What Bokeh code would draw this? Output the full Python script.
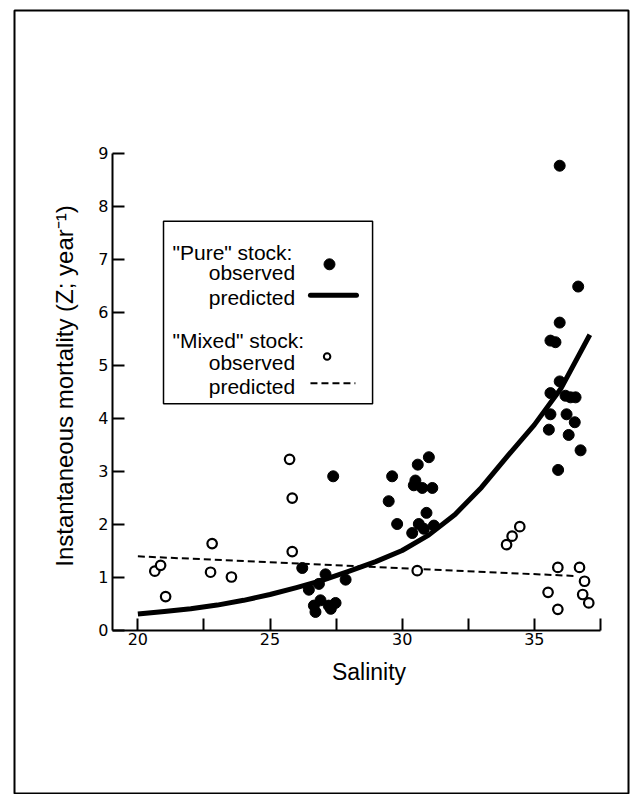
from bokeh.plotting import figure
from bokeh.models import FixedTicker, BoxAnnotation, Range1d, LinearAxis
from bokeh.core.properties import value
from bokeh.embed import file_html
from bokeh.resources import INLINE

# ---------------- data ----------------
pure_salinity = [27.39, 26.22, 27.10, 26.85, 26.47, 27.86, 26.66, 26.72, 26.91, 27.22, 27.48, 27.30,
                 31.01, 30.59, 29.62, 30.50, 30.44, 30.76, 31.14, 29.49, 30.92, 29.81, 30.63, 30.38,
                 30.82, 31.20,
                 35.96, 36.66, 35.96, 35.61, 35.80, 35.96, 35.61, 36.18, 36.37, 36.56, 35.61, 36.22,
                 36.53, 35.55, 36.30, 36.75, 35.90]
pure_z = [2.90, 1.17, 1.05, 0.87, 0.76, 0.95, 0.46, 0.34, 0.56, 0.46, 0.51, 0.40,
          3.26, 3.12, 2.90, 2.82, 2.73, 2.68, 2.68, 2.43, 2.21, 2.00, 2.00, 1.83,
          1.91, 1.97,
          8.76, 6.48, 5.80, 5.46, 5.43, 4.69, 4.47, 4.42, 4.39, 4.39, 4.07, 4.07,
          3.92, 3.78, 3.68, 3.39, 3.02]

mixed_salinity = [20.64, 20.86, 21.05, 22.81, 22.75, 23.54, 25.74, 25.84, 25.84, 30.57,
                  34.45, 34.16, 33.95, 35.89, 36.71, 36.90, 35.52, 36.83, 37.06, 35.89]
mixed_z = [1.11, 1.22, 0.63, 1.63, 1.09, 1.00, 3.22, 2.49, 1.48, 1.12,
           1.95, 1.77, 1.61, 1.18, 1.18, 0.92, 0.71, 0.67, 0.51, 0.39]

pure_pred_salinity = [20, 21, 22, 23, 24, 25, 26, 27, 28, 29, 30, 31, 32, 33, 34, 35, 36, 37.1]
pure_pred_z = [0.30, 0.35, 0.40, 0.47, 0.56, 0.67, 0.80, 0.94, 1.11, 1.29, 1.50, 1.79,
               2.18, 2.69, 3.29, 3.87, 4.55, 5.57]

mixed_pred_salinity = [20.0, 36.5]
mixed_pred_z = [1.39, 1.02]

x_major_ticks = [20, 25, 30, 35]
x_minor_ticks = [22.5, 27.5, 32.5, 37.5]
y_ticks = [0, 1, 2, 3, 4, 5, 6, 7, 8, 9]
x_axis_bounds = (19.04, 37.5)
y_axis_bounds = (0, 9)

legend_headers = ['"Pure" stock:', '"Mixed" stock:']
legend_items = ["observed", "predicted", "observed", "predicted"]

x_label = "Salinity"
y_label = "Instantaneous mortality (Z; year\u207b\u00b9)"

# ---------------- figure ----------------
# The plot frame is the outer rule of the original figure; the axes sit
# inside it at fixed data locations.
W, H = 630, 794
FRAME_L, FRAME_R, FRAME_T, FRAME_B = 14, 628, 10, 794
PX_PER_X = 26.43           # pixels per salinity unit
PX_PER_Y = 53.0            # pixels per Z unit
AXIS_X_PX, AXIS_Y_PX = 112, 629.5   # where the axes cross, in page pixels

x0 = x_axis_bounds[0] - (AXIS_X_PX - FRAME_L) / PX_PER_X
x1 = x_axis_bounds[0] + (FRAME_R - AXIS_X_PX) / PX_PER_X
y0 = -(FRAME_B - AXIS_Y_PX) / PX_PER_Y
y1 = (AXIS_Y_PX - FRAME_T) / PX_PER_Y

p = figure(width=W, height=H, output_backend="svg", toolbar_location=None,
           x_range=Range1d(x0, x1), y_range=Range1d(y0, y1),
           min_border_left=FRAME_L, min_border_right=W - FRAME_R,
           min_border_top=FRAME_T, min_border_bottom=H - FRAME_B)
p.grid.visible = False
p.outline_line_color = "black"
p.outline_line_width = 2
p.background_fill_color = "white"
p.border_fill_color = "white"

TICK_FONT = "DejaVu Sans"
TEXT_FONT = "Liberation Sans"

for ax in (p.xaxis[0], p.yaxis[0]):
    ax.axis_line_width = 2
    ax.axis_line_color = "black"
    ax.major_tick_line_width = 2
    ax.major_tick_line_color = "black"
    ax.major_tick_in = 12
    ax.major_tick_out = 0
    ax.minor_tick_line_width = 2
    ax.minor_tick_line_color = "black"
    ax.major_label_text_font = TICK_FONT
    ax.major_label_text_font_size = "16px"
    ax.major_label_text_color = "black"

p.xaxis.fixed_location = 0
p.xaxis.bounds = x_axis_bounds
p.xaxis.ticker = FixedTicker(ticks=x_major_ticks, minor_ticks=x_minor_ticks)
p.xaxis.minor_tick_in = 12
p.xaxis.minor_tick_out = 0
p.xaxis.major_label_standoff = 3

p.yaxis.fixed_location = x_axis_bounds[0]
p.yaxis.bounds = y_axis_bounds
p.yaxis.ticker = FixedTicker(ticks=y_ticks)
p.yaxis.minor_tick_in = 0
p.yaxis.minor_tick_out = 0
p.yaxis.major_label_standoff = 4


def title_axis(label, size, bounds, location, standoff):
    """An axis that draws only its title, centred where the original title sits."""
    return LinearAxis(fixed_location=location, bounds=bounds,
                      ticker=FixedTicker(ticks=[], minor_ticks=[]),
                      axis_line_color=None, major_tick_line_color=None,
                      minor_tick_line_color=None, major_label_text_color=None,
                      axis_label=label, axis_label_standoff=standoff,
                      axis_label_text_font=TEXT_FONT, axis_label_text_font_size=size,
                      axis_label_text_font_style="normal", axis_label_text_color="black")


p.add_layout(title_axis(x_label, "23px", (20.0, 37.5), 0, 28), "below")
p.add_layout(title_axis(y_label, "24px", (0.1, 9.1), x_axis_bounds[0], 35), "left")

# ---------------- predicted curves ----------------
p.line(pure_pred_salinity, pure_pred_z, line_width=5, line_color="black",
       line_cap="butt", line_join="round")
p.line(mixed_pred_salinity, mixed_pred_z, line_width=2, line_color="black",
       line_dash="7 4")

# ---------------- observations ----------------
p.scatter(mixed_salinity, mixed_z, marker="circle", size=9.5, line_width=2.2,
          line_color="black", fill_color="white")
p.scatter(pure_salinity, pure_z, marker="circle", size=11, line_width=1,
          line_color="black", fill_color="black")

# ---------------- legend box (drawn by hand, like the original) ----------------
p.add_layout(BoxAnnotation(left=20.97, right=28.88, top=7.71, bottom=4.27,
                           fill_alpha=0, line_color="black", line_alpha=1.0,
                           line_width=1.5))
p.text(x=[21.31, 21.31], y=[7.128, 5.462], text=legend_headers,
       text_font=value(TEXT_FONT), text_font_size="21px", text_color="black",
       text_align="left", text_baseline="alphabetic")
p.text(x=[22.68] * 4, y=[6.751, 6.279, 5.053, 4.594], text=legend_items,
       text_font=value(TEXT_FONT), text_font_size="21px", text_color="black",
       text_align="left", text_baseline="alphabetic")
p.scatter([27.25], [6.90], marker="circle", size=11, line_width=1,
          line_color="black", fill_color="black")
p.line([26.53, 28.27], [6.317, 6.317], line_width=5, line_color="black", line_cap="round")
p.scatter([27.16], [5.16], marker="circle", size=6.5, line_width=2,
          line_color="black", fill_color="white")
p.line([26.53, 28.23], [4.657, 4.657], line_width=2, line_color="black", line_dash="7 4")

open("out.html", "w").write(file_html(p, INLINE))
